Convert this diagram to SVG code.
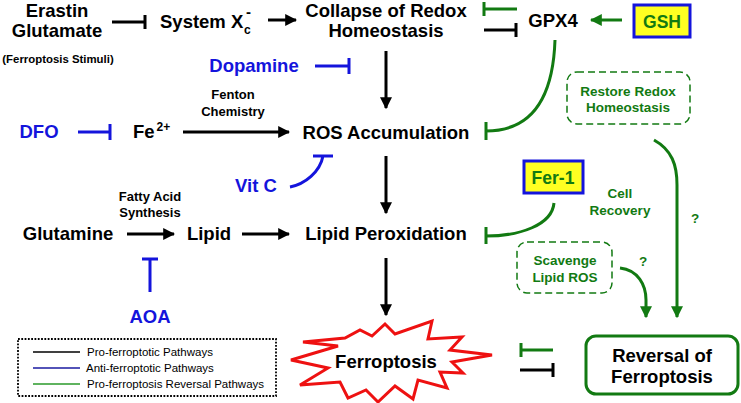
<svg xmlns="http://www.w3.org/2000/svg" width="741" height="403" viewBox="0 0 741 403">
<defs>
<marker id="ak" viewBox="0 0 10 10" refX="9" refY="5" markerWidth="4" markerHeight="4" orient="auto" markerUnits="strokeWidth"><path d="M0,0 L10,5 L0,10 z" fill="#000"/></marker>
<marker id="ag" viewBox="0 0 10 10" refX="9" refY="5" markerWidth="4" markerHeight="4" orient="auto" markerUnits="strokeWidth"><path d="M0,0 L10,5 L0,10 z" fill="#127a12"/></marker>
<style>
text{font-family:"Liberation Sans",Arial,sans-serif;font-weight:bold}
.m{font-size:18.5px;fill:#000}
.b{font-size:18.5px;fill:#1414dc}
.s{font-size:13px;fill:#000}
.g{font-size:13.5px;fill:#127a12}
.gm{font-size:17.5px;fill:#127a12}
.lg{font-size:11.5px;font-weight:normal;fill:#000}
.k{stroke:#000;stroke-width:3;fill:none}
.bl{stroke:#1414dc;stroke-width:3;fill:none}
.gr{stroke:#127a12;stroke-width:3;fill:none}
.dash{stroke:#127a12;stroke-width:1.5;fill:none;stroke-dasharray:7,4}
</style>
</defs>
<rect width="741" height="403" fill="#fff"/>

<g id="connectors">
<path class="k" d="M112,22 H145 M145,15 V29"/>
<path class="k" d="M268,20 H296" marker-end="url(#ak)"/>
<path class="gr" d="M517,9 H484 M484,2 V16"/>
<path class="k" d="M484,30 H516 M516,23 V37"/>
<path class="gr" d="M622,20 H591" marker-end="url(#ag)"/>
<path class="gr" d="M555,40 C553,100 530,131 486,131 M486,122 V140"/>
<path class="bl" d="M315,66 H349 M349,58 V74"/>
<path class="k" d="M386,51 V108" marker-end="url(#ak)"/>
<path class="bl" d="M78,132 H110 M110,124 V140"/>
<path class="k" d="M183,132 H289" marker-end="url(#ak)"/>
<path class="bl" d="M290,187 C305,184 320,172 323,156 M313,156 H333"/>
<path class="k" d="M386,156 V213" marker-end="url(#ak)"/>
<path class="k" d="M127,234 H174" marker-end="url(#ak)"/>
<path class="k" d="M242,234 H289" marker-end="url(#ak)"/>
<path class="bl" d="M150,292 V259 M142,259 H158"/>
<path class="gr" d="M554,203 C552,225 520,236 486,236 M486,227 V244"/>
<path class="k" d="M386,258 V315" marker-end="url(#ak)"/>
<path class="gr" d="M654,140 C672,150 677,165 677,185 V317" marker-end="url(#ag)"/>
<path class="gr" d="M620,268 C638,270 646,285 646,300 V317" marker-end="url(#ag)"/>
<path class="gr" d="M553,350 H521 M521,343 V357"/>
<path class="k" d="M520,370 H553 M553,363 V377"/>
</g>

<g id="erastin">
<text class="m" x="57" y="17" text-anchor="middle">Erastin</text>
<text class="m" x="57" y="37" text-anchor="middle">Glutamate</text>
<text x="58" y="63" text-anchor="middle" style="font-size:11.4px">(Ferroptosis Stimuli)</text>
</g>
<g id="system-xc">
<text class="m" x="160" y="28">System X</text>
<text x="244" y="34" style="font-size:12px">c</text>
<text x="246" y="17" style="font-size:15px">-</text>
</g>
<g id="collapse">
<text class="m" x="386" y="17" text-anchor="middle">Collapse of Redox</text>
<text class="m" x="386" y="37" text-anchor="middle">Homeostasis</text>
</g>
<g id="gpx4"><text class="m" x="553" y="27" text-anchor="middle">GPX4</text></g>
<g id="gsh">
<rect x="634" y="5" width="56" height="32" fill="#ffff22" stroke="#1414dc" stroke-width="3"/>
<text class="gm" x="662" y="28" text-anchor="middle">GSH</text>
</g>
<g id="dopamine"><text class="b" x="254" y="72" text-anchor="middle">Dopamine</text></g>
<g id="restore-redox">
<rect class="dash" x="567" y="72" width="123" height="52" rx="10"/>
<text class="g" x="628" y="96" text-anchor="middle">Restore Redox</text>
<text class="g" x="628" y="112" text-anchor="middle">Homeostasis</text>
</g>
<g id="fenton">
<text class="s" x="233" y="99" text-anchor="middle">Fenton</text>
<text class="s" x="233" y="116" text-anchor="middle">Chemistry</text>
</g>
<g id="dfo"><text class="b" x="39" y="138" text-anchor="middle">DFO</text></g>
<g id="fe">
<text class="m" x="133" y="138">Fe</text>
<text x="156.5" y="131" style="font-size:12px">2+</text>
</g>
<g id="ros"><text class="m" x="386" y="139" text-anchor="middle">ROS Accumulation</text></g>
<g id="vitc"><text class="b" x="256" y="192" text-anchor="middle">Vit C</text></g>
<g id="fer1">
<rect x="524" y="161" width="59" height="32" fill="#ffff22" stroke="#1414dc" stroke-width="3"/>
<text class="gm" x="553" y="184" text-anchor="middle">Fer-1</text>
</g>
<g id="cell-recovery">
<text class="g" x="620" y="198" text-anchor="middle">Cell</text>
<text class="g" x="620" y="215" text-anchor="middle">Recovery</text>
</g>
<g id="q1"><text class="g" x="695" y="223" text-anchor="middle">?</text></g>
<g id="fatty-acid">
<text class="s" x="150" y="201" text-anchor="middle">Fatty Acid</text>
<text class="s" x="150" y="217" text-anchor="middle">Synthesis</text>
</g>
<g id="glutamine"><text class="m" x="68" y="240" text-anchor="middle">Glutamine</text></g>
<g id="lipid"><text class="m" x="209" y="240" text-anchor="middle">Lipid</text></g>
<g id="lipid-peroxidation"><text class="m" x="386" y="240" text-anchor="middle">Lipid Peroxidation</text></g>
<g id="scavenge">
<rect class="dash" x="517" y="242" width="95" height="51" rx="10"/>
<text class="g" x="565" y="265" text-anchor="middle">Scavenge</text>
<text class="g" x="565" y="282" text-anchor="middle">Lipid ROS</text>
</g>
<g id="q2"><text class="g" x="643" y="266" text-anchor="middle">?</text></g>
<g id="aoa"><text class="b" x="150" y="323" text-anchor="middle">AOA</text></g>
<g id="ferroptosis">
<polygon points="385,324 395,334 432,321 428,339 462,337 450,350 492,355 452,362 463,373 440,372 447,388 418,380 413,399 395,386 378,402 366,390 348,398 340,382 300,385 328,368 291,360 338,346 303,342 345,338 360,330 372,336" fill="#fff" stroke="#ee1111" stroke-width="3" stroke-linejoin="miter"/>
<text class="m" x="386" y="368" text-anchor="middle">Ferroptosis</text>
</g>
<g id="reversal">
<rect x="586" y="336" width="152" height="58" rx="10" fill="#fff" stroke="#127a12" stroke-width="3"/>
<text class="m" x="662" y="362" text-anchor="middle">Reversal of</text>
<text class="m" x="662" y="383" text-anchor="middle">Ferroptosis</text>
</g>
<g id="legend">
<rect x="18" y="339" width="258" height="57" fill="none" stroke="#000" stroke-width="1.8" stroke-dasharray="1.8,1.5"/>
<path d="M33,352 H80" stroke="#000" stroke-width="1.5"/>
<path d="M33,368 H80" stroke="#1a1aa0" stroke-width="1.5"/>
<path d="M33,384 H80" stroke="#2a9a2a" stroke-width="1.5"/>
<text class="lg" x="87" y="356">Pro-ferroptotic Pathways</text>
<text class="lg" x="86" y="372">Anti-ferroptotic Pathways</text>
<text class="lg" x="87" y="388">Pro-ferroptosis Reversal Pathways</text>
</g>
</svg>
